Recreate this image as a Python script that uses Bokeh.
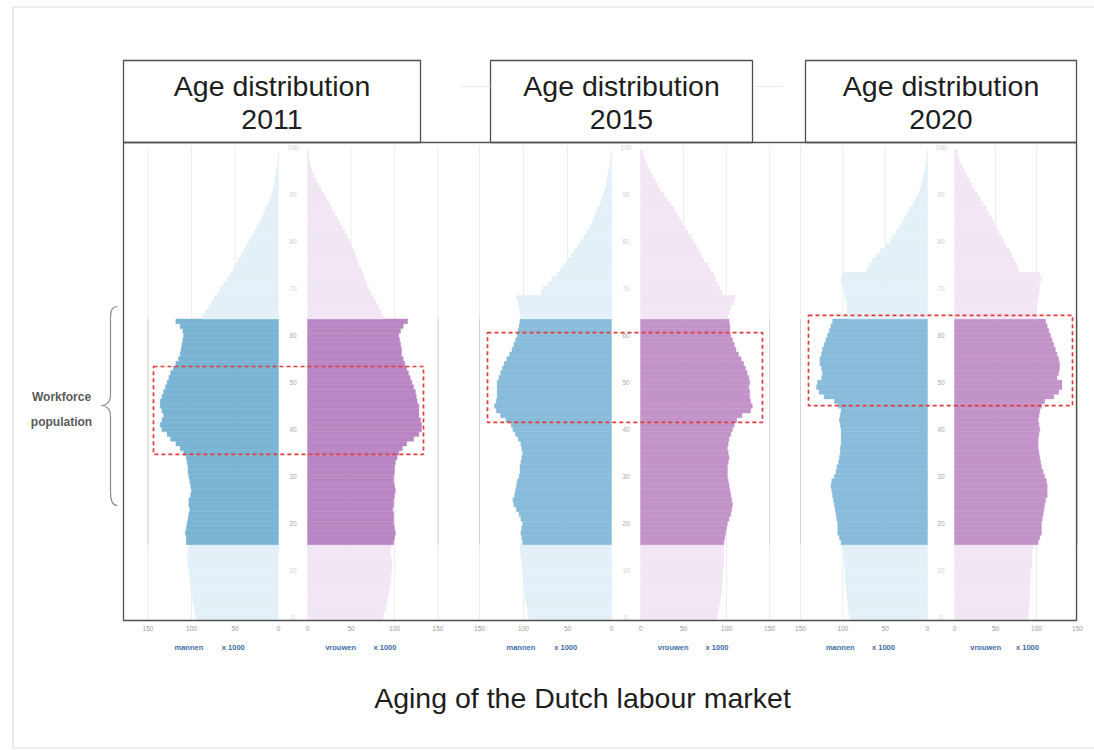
from bokeh.plotting import figure
from bokeh.models import Range1d, ColumnDataSource
from bokeh.core.properties import value
from bokeh.embed import file_html
from bokeh.resources import INLINE

# ---------------- data (x 1000 persons, by single year of age 0..99) ----------------
ages = list(range(100))
years = ["2011", "2015", "2020"]

men_2011 = [95, 96, 97, 98, 99, 99, 100, 101, 102, 102, 103, 104, 105, 105, 104, 103,
            106, 106, 107, 106, 105, 104, 103, 102, 103, 103, 101, 100, 101, 102, 103, 104,
            104, 105, 106, 109, 113, 118, 124, 128, 134, 136, 134, 132, 134, 136, 136, 134,
            132, 130, 128, 126, 124, 121, 118, 115, 113, 112, 111, 110, 109, 110, 113, 118,
            87, 84, 80, 77, 74, 70, 67, 63, 59, 55, 52, 49, 46, 43, 40, 37, 34, 31, 28, 25,
            22, 19, 17, 15, 12, 10, 8, 6.5, 5, 4, 3.4, 2.5, 1.5, 1, 0.5, 0.2]
women_2011 = [87, 88, 90, 91, 92, 93, 94, 95, 96, 96, 97, 97, 97, 96, 95, 96,
              99, 100, 101, 100, 99, 99, 99, 98, 99, 99, 100, 101, 100, 99, 99, 100,
              100, 101, 103, 105, 109, 114, 122, 128, 131, 131, 130, 128, 128, 128, 126, 125,
              124, 122, 120, 118, 116, 114, 112, 110, 108, 108, 107, 106, 105, 107, 110, 115,
              87, 85, 82, 79, 76, 73, 70, 68, 66, 64, 62, 59, 57, 55, 53, 51, 49, 46, 43, 40,
              37, 34, 31, 28, 25, 22, 19, 16, 13, 10, 7, 5, 3.5, 2.5, 1.5, 1]
men_2015 = [94, 95, 96, 97, 98, 98, 99, 99, 100, 100, 101, 102, 102, 103, 104, 104,
            101, 102, 103, 102, 101, 103, 105, 108, 111, 112, 110, 109, 108, 107, 105, 104,
            104, 103, 102, 101, 102, 103, 106, 109, 112, 114, 120, 126, 131, 133, 131, 130,
            130, 130, 130, 128, 126, 124, 122, 119, 116, 113, 111, 109, 107, 106, 105, 104,
            103, 104, 105, 106, 108, 80, 78, 72, 68, 62, 58, 54, 50, 46, 42, 38, 35, 31, 28, 25,
            22, 20, 18, 16, 13, 11, 9, 7.5, 6, 5, 4.5, 3, 2, 1.2, 0.7, 0.3]
women_2015 = [89, 90, 91, 92, 93, 94, 94, 95, 95, 96, 96, 97, 97, 97, 97, 97,
              97, 98, 99, 100, 101, 103, 105, 106, 107, 106, 105, 104, 103, 102, 101, 101,
              101, 102, 103, 102, 101, 102, 103, 105, 107, 109, 112, 118, 128, 130, 128, 127,
              127, 126, 127, 126, 124, 122, 120, 117, 114, 111, 109, 107, 105, 104, 104, 103,
              101, 103, 105, 109, 110, 95, 92, 90, 87, 85, 81, 78, 74, 71, 68, 65, 62, 59, 55, 52,
              48, 45, 42, 39, 35, 31, 27, 23, 20, 17, 14, 11, 8, 6, 4, 2.5]
men_2020 = [92, 93, 94, 94, 95, 95, 96, 96, 97, 97, 97, 98, 98, 99, 99, 100,
            102, 104, 106, 106, 106, 107, 108, 109, 110, 111, 112, 113, 114, 113, 110, 108,
            107, 105, 104, 103, 103, 102, 102, 102, 102, 103, 104, 103, 102, 105, 110, 122,
            128, 131, 130, 125, 124, 125, 127, 127, 125, 124, 122, 120, 118, 116, 114, 112,
            94, 95, 95, 96, 97, 98, 99, 100, 102, 100, 72, 69, 65, 61, 56, 49, 44, 41, 37, 33,
            30, 27, 24, 21, 17, 14, 11, 9, 7, 5.5, 4.5, 3.5, 2.5, 1.5, 1, 0.5]
women_2020 = [90, 90, 91, 91, 92, 92, 92, 92, 93, 93, 93, 94, 94, 94, 95, 96,
              102, 104, 106, 106, 106, 107, 108, 109, 110, 111, 113, 113, 113, 112, 110, 108,
              106, 105, 104, 103, 102, 102, 102, 103, 104, 103, 102, 103, 104, 106, 110, 121,
              127, 131, 131, 125, 127, 128, 128, 127, 125, 123, 121, 119, 117, 115, 113, 111,
              101, 100, 100, 101, 102, 103, 104, 104, 106, 104, 78, 76, 73, 70, 67, 63, 60, 57, 54, 51,
              48, 45, 42, 39, 35, 32, 28, 24, 21, 18, 15, 12, 9, 6, 4.5, 3]

men = [men_2011, men_2015, men_2020]
women = [women_2011, women_2015, women_2020]

workforce_first, workforce_last = 16, 63
highlight_ages = [(34.7, 53.4), (41.5, 60.6), (45.1, 64.3)]   # dashed boxes (age span)
x_ticks = [0, 50, 100, 150]
age_ticks = list(range(0, 101, 10))
header_line1 = "Age distribution"
men_label, women_label, unit_label = "mannen", "vrouwen", "x 1000"
side_label = ["Workforce", "population"]
main_title = "Aging of the Dutch labour market"

# ---------------- layout / style ----------------
W, H = 1094, 750
FONT = value("Liberation Sans")

# per panel: male zero px, female zero px, px per 1000 (male / female),
# header box, dashed box x extent
panels = [
    dict(mz=278, fz=307, km=0.87, kf=0.87, box=(123, 420), hl=(153, 423),
         dm="#79b4d3", df="#b985c3"),
    dict(mz=611, fz=640, km=0.88, kf=0.86, box=(490, 752), hl=(487, 762),
         dm="#88bcda", df="#c292c9"),
    dict(mz=927, fz=954, km=0.847, kf=0.82, box=(805, 1076), hl=(808, 1072),
         dm="#88bcda", df="#c292c9"),
]
LM, LF = "#e3f0f7", "#f2e6f4"

p = figure(width=W, height=H, x_range=Range1d(0, W), y_range=Range1d(H, 0),
           x_axis_type=None, y_axis_type=None, toolbar_location=None,
           output_backend="svg", min_border=0, outline_line_color=None, title=None)
p.background_fill_color = "white"
p.border_fill_color = "white"

AGE_PX = 4.7
age_end = 617 / AGE_PX
p.extra_y_ranges = {"age": Range1d(start=age_end - H / AGE_PX, end=age_end)}


def side_range(zero_px, k, direction):
    start = -zero_px / (direction * k)
    return Range1d(start=start, end=start + W / (direction * k))


extra = {}
for i, pn in enumerate(panels):
    extra[f"m{i}"] = side_range(pn["mz"], pn["km"], -1)
    extra[f"f{i}"] = side_range(pn["fz"], pn["kf"], 1)
p.extra_x_ranges = extra

FR_L, FR_R, FR_T, FR_B = 123, 1076, 142, 620

for i, pn in enumerate(panels):
    for side, vals, dark, light in (("m", men[i], pn["dm"], LM), ("f", women[i], pn["df"], LF)):
        rn = f"{side}{i}"
        # grid lines
        p.segment(x0=x_ticks[1:], x1=x_ticks[1:], y0=[-0.5] * 3, y1=[100.3] * 3,
                  line_color="#ededed", line_width=1, x_range_name=rn, y_range_name="age")
        p.segment(x0=[150], x1=[150], y0=[workforce_first - 0.5], y1=[workforce_last + 0.5],
                  line_color="#d2d2d2", line_width=1, x_range_name=rn, y_range_name="age")
        cols = [dark if workforce_first <= a <= workforce_last else light for a in ages]
        src = ColumnDataSource(dict(age=ages, v=vals, c=cols))
        p.hbar(y="age", left=0, right="v", height=1, source=src, fill_color="c",
               line_color="c", line_width=0.4, x_range_name=rn, y_range_name="age")
        # tick labels
        p.text(x=x_ticks, y=[628] * 4, text=[str(t) for t in x_ticks], x_range_name=rn,
               text_font=FONT, text_font_size="6.5px", text_color="#9a9a9a",
               text_align="center", text_baseline="middle")
    # axis captions
    p.text(x=[103, 52], y=[647, 647], text=[men_label, unit_label], x_range_name=f"m{i}",
           text_font=FONT, text_font_size="7.5px", text_font_style="bold",
           text_color="#3c6ea8", text_align="center", text_baseline="middle")
    p.text(x=[38, 89], y=[647, 647], text=[women_label, unit_label], x_range_name=f"f{i}",
           text_font=FONT, text_font_size="7.5px", text_font_style="bold",
           text_color="#3c6ea8", text_align="center", text_baseline="middle")
    # age labels in the centre strip
    cx = (pn["mz"] + pn["fz"]) / 2
    acol = ["#a8a8a8" if 20 <= a <= 60 else "#d0d0d0" for a in age_ticks]
    p.text(x=[cx] * len(age_ticks), y=age_ticks, text=[str(a) for a in age_ticks],
           y_range_name="age", text_font=FONT, text_font_size="6.5px", text_color=acol,
           text_align="center", text_baseline="middle")
    # dashed highlight
    lo, hi = highlight_ages[i]
    p.quad(left=[pn["hl"][0]], right=[pn["hl"][1]], bottom=[lo], top=[hi], y_range_name="age",
           fill_color=None, line_color="#e23b3b", line_width=1.7, line_dash="4 3")
    # header box
    bl, br = pn["box"]
    p.quad(left=[bl], right=[br], top=[60], bottom=[FR_T], fill_color=None,
           line_color="#505050", line_width=1.3)
    p.text(x=[(bl + br) / 2] * 2, y=[85, 119], text=[header_line1, years[i]],
           text_font=FONT, text_font_size="28.5px", text_color="#1e1e1e",
           text_align="center", text_baseline="middle")

# faint connectors between header boxes
p.segment(x0=[460, 754], x1=[490, 783], y0=[86, 86], y1=[86, 86], line_color="#ececec",
          line_width=1)

# main frame
p.quad(left=[FR_L], right=[FR_R], top=[FR_T], bottom=[FR_B], fill_color=None,
       line_color="#505050", line_width=1.3)

# outer light frame
p.segment(x0=[12.5, 12.5, 12.5], x1=[12.5, W, W], y0=[6.5, 6.5, 747.5],
          y1=[747.5, 6.5, 747.5], line_color="#dedede", line_width=1.2)

# brace
bc = "#8a8a8a"
p.bezier(x0=[117, 110, 101, 110], y0=[306, 395, 405, 492],
         x1=[110, 101, 110, 117], y1=[318, 405, 415, 505],
         cx0=[112, 110, 105, 110], cy0=[306, 402, 405, 501],
         cx1=[110, 105, 110, 112], cy1=[309, 405, 408, 505],
         line_color=bc, line_width=1.2)
p.segment(x0=[110, 110], x1=[110, 110], y0=[318, 415], y1=[395, 492], line_color=bc,
          line_width=1.2)
p.text(x=[61, 61], y=[396, 421], text=side_label, text_font=FONT, text_font_size="12px",
       text_font_style="bold", text_color="#5a5a5a", text_align="center",
       text_baseline="middle")

# title
p.text(x=[582], y=[697], text=[main_title], text_font=FONT, text_font_size="28.5px",
       text_color="#1e1e1e", text_align="center", text_baseline="middle")

open("out.html", "w").write(file_html(p, INLINE))
